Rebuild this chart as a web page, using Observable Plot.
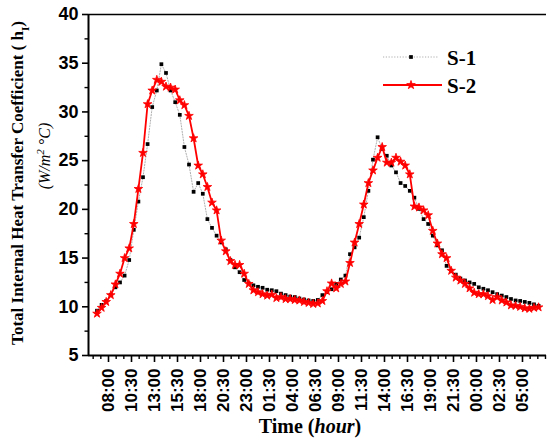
<!DOCTYPE html>
<html><head><meta charset="utf-8">
<script src="https://cdn.jsdelivr.net/npm/d3@7"></script>
<script src="https://cdn.jsdelivr.net/npm/@observablehq/plot@0.6"></script>
<style>
html,body{margin:0;padding:0;background:#fff;}
#chart{position:relative;width:547px;height:441px;overflow:hidden;}
</style></head><body><div id="chart"></div>
<script>
// Readings every 30 min, first one at 06:45 (hours counted from day-1 midnight)
const startHour = 6.75;
const stepHours = 0.5;

const seriesNames = ["S-1", "S-2"];

const s1 = [9.6,10.2,10.6,11.2,12.0,12.5,13.2,14.8,17.9,20.8,
  23.3,26.7,30.5,32.2,34.9,34.0,32.2,31.0,29.7,26.4,
  24.6,21.8,22.7,21.6,19.0,18.1,17.3,16.6,15.9,14.8,
  14.05,13.55,12.75,12.4,12.2,12.05,11.95,11.75,11.7,11.6,
  11.35,11.2,11.05,11.0,10.85,10.75,10.65,10.6,10.7,11.2,
  11.5,11.8,12.35,12.8,13.2,15.4,16.1,17.1,19.2,21.9,
  25.1,27.4,26.2,25.5,24.5,23.8,22.7,22.4,21.9,21.2,
  20.05,19.0,18.5,17.3,16.3,15.8,14.2,13.7,13.3,12.9,
  12.7,12.5,12.35,12.0,11.85,11.7,11.5,11.3,11.15,11.0,
  10.8,10.65,10.6,10.5,10.4,10.25,10.1];

const s2 = [9.3,9.9,10.5,11.2,12.3,13.4,15.0,16.0,18.5,22.1,
  25.8,30.8,32.2,33.3,33.1,32.6,32.5,32.3,31.2,30.7,
  29.6,27.3,24.5,23.6,22.3,20.7,19.9,16.8,15.7,14.7,
  14.3,14.3,13.4,12.35,11.7,11.5,11.3,11.15,11.25,10.9,
  11.0,10.8,10.8,10.7,10.65,10.5,10.4,10.3,10.35,10.6,
  11.6,12.4,11.9,12.35,12.6,14.5,16.6,18.5,20.5,22.7,
  24.0,25.3,26.4,24.8,24.8,25.3,24.9,24.5,23.6,20.3,
  20.2,19.9,19.4,17.8,16.5,15.4,15.0,13.7,13.0,12.7,
  12.35,11.9,11.45,11.3,11.3,11.1,10.7,11.0,10.65,10.45,
  10.15,10.1,10.0,9.85,9.8,9.9,9.95];

const xTickHours = [8,10.5,13,15.5,18,20.5,23,25.5,28,30.5,33,35.5,38,40.5,43,45.5,48,50.5,53];
const xTickLabels = ["08:00","10:30","13:00","15:30","18:00","20:30","23:00","01:30","04:00","06:30",
  "09:00","11:30","14:00","16:30","19:00","21:30","00:00","02:30","05:00"];
const yTicks = [5,10,15,20,25,30,35,40];
const yMinorTicks = [7.5,12.5,17.5,22.5,27.5,32.5,37.5];

const xDomain = [5.826, 55.61];
const yDomain = [5, 40];

const rows = s1.map((v, i) => ({t: startHour + i * stepHours, s1: v, s2: s2[i]}));

const xMinor = [];
const step = 2.5 / 3;
for (let h = xTickHours[0] - 2 * step; h < xDomain[1]; h += step) {
  const isMajor = xTickHours.some(m => Math.abs(m - h) < 1e-6);
  if (!isMajor && h > xDomain[0]) xMinor.push(h);
}
const xLabelRows = xTickHours.map((h, i) => ({h, label: xTickLabels[i]}));

const chart = Plot.plot({
  width: 547, height: 441,
  marginLeft: 88, marginRight: 1, marginTop: 14, marginBottom: 86,
  x: {domain: xDomain, axis: null},
  y: {domain: yDomain, axis: null},
  style: {fontFamily: "'Liberation Sans', Arial, sans-serif", background: "white", color: "black"},
  marks: [
    Plot.axisY({ticks: yTicks, tickSize: 6, tickPadding: 4, tickFormat: d => String(d), label: null,
      fontSize: 18, fontWeight: "bold", strokeWidth: 1.6}),
    Plot.axisY({ticks: yMinorTicks, tickSize: 3.5, tickFormat: () => "", label: null, strokeWidth: 1.4}),
    Plot.axisX({ticks: xTickHours, tickSize: 7, tickFormat: () => "", label: null, strokeWidth: 1.6}),
    Plot.axisX({ticks: xMinor, tickSize: 4, tickFormat: () => "", label: null, strokeWidth: 1.4}),
    Plot.text(xLabelRows, {x: "h", frameAnchor: "bottom", text: "label", rotate: -90, textAnchor: "end",
      lineAnchor: "middle", dy: 13, fontSize: 17, fontWeight: "bold", fill: "black"}),
    Plot.ruleX([xDomain[0]], {stroke: "black", strokeWidth: 2}),
    Plot.ruleY([yDomain[0]], {stroke: "black", strokeWidth: 2}),
    Plot.ruleY([yDomain[1]], {stroke: "black", strokeWidth: 1.6}),
    Plot.line(rows, {x: "t", y: "s1", stroke: "#999", strokeWidth: 0.8, strokeDasharray: "1.2,1.6"}),
    Plot.dot(rows, {x: "t", y: "s1", symbol: "square", r: 2.1, fill: "black", stroke: "none"}),
    Plot.line(rows, {x: "t", y: "s2", stroke: "#ff0000", strokeWidth: 1.8}),
    Plot.dot(rows, {x: "t", y: "s2", symbol: "star", r: 2.7, fill: "#ff0000", stroke: "#ff0000", strokeWidth: 0.8})
  ]
});

document.getElementById("chart").appendChild(chart);
const svg = d3.select(chart);
const serif = "'Liberation Serif', 'Times New Roman', serif";

// Y axis title (two lines)
const yt = svg.append("text")
  .attr("transform", "translate(17,183) rotate(-90)")
  .attr("text-anchor", "middle").attr("dy", "0.35em")
  .attr("font-family", serif).attr("font-weight", "bold").attr("font-size", 17).attr("fill", "black");
yt.append("tspan").text("Total Internal Heat Transfer Coefficient ( h");
yt.append("tspan").attr("baseline-shift", "sub").attr("font-size", 11).text("I");
yt.append("tspan").text(")");

const yt2 = svg.append("text")
  .attr("transform", "translate(44,156) rotate(-90)")
  .attr("text-anchor", "middle").attr("dy", "0.35em")
  .attr("font-family", serif).attr("font-style", "italic").attr("font-size", 16).attr("fill", "black");
yt2.append("tspan").text("(W/m");
yt2.append("tspan").attr("baseline-shift", "super").attr("font-size", 11).text("2");
yt2.append("tspan").text(" °C)");

// X axis title
const xt = svg.append("text")
  .attr("x", 310).attr("y", 433).attr("text-anchor", "middle")
  .attr("font-family", serif).attr("font-weight", "bold").attr("font-size", 20).attr("fill", "black");
xt.append("tspan").text("Time (");
xt.append("tspan").attr("font-style", "italic").text("hour");
xt.append("tspan").text(")");

// Legend
const lg = svg.append("g");
lg.append("line").attr("x1", 383).attr("x2", 439).attr("y1", 57).attr("y2", 57)
  .attr("stroke", "#999").attr("stroke-width", 0.8).attr("stroke-dasharray", "1.2,1.6");
lg.append("path").attr("d", d3.symbol(d3.symbolSquare, Math.PI * 2.1 * 2.1)())
  .attr("transform", "translate(411,57)").attr("fill", "black");
lg.append("line").attr("x1", 383).attr("x2", 442).attr("y1", 85).attr("y2", 85)
  .attr("stroke", "#ff0000").attr("stroke-width", 1.8);
lg.append("path").attr("d", d3.symbol(d3.symbolStar, Math.PI * 2.7 * 2.7)())
  .attr("transform", "translate(411,85)").attr("fill", "#ff0000").attr("stroke", "#ff0000").attr("stroke-width", 0.8);
seriesNames.forEach((name, i) => {
  lg.append("text").attr("x", 447).attr("y", i === 0 ? 65 : 93).attr("text-anchor", "start")
    .attr("font-family", serif).attr("font-weight", "bold").attr("font-size", 21).attr("fill", "black")
    .text(name);
});
</script>
</body></html>
